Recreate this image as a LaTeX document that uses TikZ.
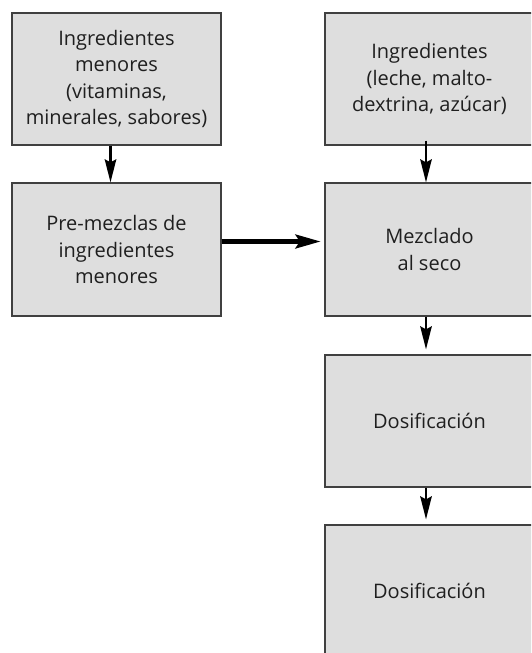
\documentclass[tikz,border=0pt]{standalone}
\usepackage{fontspec}
\setmainfont{Open Sans}
\usetikzlibrary{arrows.meta}
\definecolor{boxfill}{HTML}{DEDEDE}
\definecolor{boxline}{HTML}{404040}
\begin{document}
\begin{tikzpicture}[x=1pt,y=-1pt,
  stepbox/.style={draw=boxline, line width=1.3pt, fill=boxfill, rectangle,
    minimum width=209pt, minimum height=132pt, inner sep=0pt, align=center,
    font=\fontsize{20}{26.5}\selectfont, text=black!88},
  thinarrow/.style={line width=2.2pt, -{Stealth[length=23pt,width=11.5pt,inset=3pt]}},
  thickarrow/.style={line width=5pt, -{Stealth[length=25pt,width=13.5pt,inset=4pt]}}]
\clip (0,0) rectangle (531,653);
\node[stepbox] (A) at (116.5,79) {Ingredientes\\menores\\(vitaminas,\\minerales, sabores)};
\node[stepbox, minimum height=133pt] (B) at (116.5,249.5) {Pre-mezclas de\\ingredientes\\menores};
\node[stepbox] (C) at (429.5,79) {Ingredientes\\(leche, malto-\\dextrina, azúcar)};
\node[stepbox, minimum height=133pt] (D) at (429.5,249.5) {Mezclado\\al seco};
\node[stepbox] (E) at (429.5,421) {Dosificación};
\node[stepbox] (F) at (429.5,591) {Dosificación};
\draw[thinarrow] ([xshift=-6pt]A.south) -- ([xshift=-6pt]B.north);
\draw[thinarrow, shorten <=-5pt] ([xshift=-3.5pt]C.south) -- ([xshift=-3.5pt]D.north);
\draw[thinarrow, shorten >=5pt] ([xshift=-3.5pt]D.south) -- ([xshift=-3.5pt]E.north);
\draw[thinarrow, shorten >=5pt] ([xshift=-3.5pt]E.south) -- ([xshift=-3.5pt]F.north);
\draw[thickarrow, shorten >=3.5pt] ([yshift=8pt]B.east) -- ([yshift=8pt]D.west);
\end{tikzpicture}
\end{document}
